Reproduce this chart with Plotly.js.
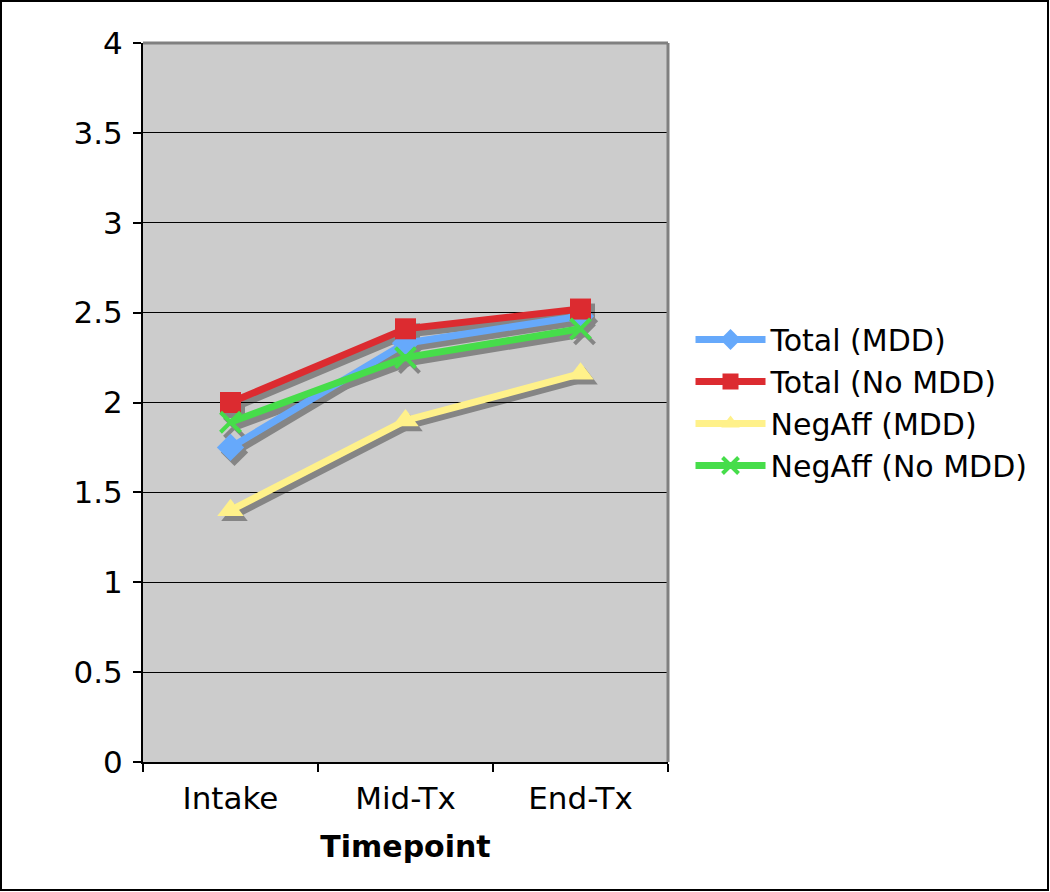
<!DOCTYPE html>
<html>
<head>
<meta charset="utf-8">
<script src="https://cdn.plot.ly/plotly-3.0.1.min.js"></script>
<style>
  html, body { margin: 0; background: #fff; overflow: hidden; }
  #graph { width: 1050px; height: 892px; }
</style>
</head>
<body>
<div id="graph"></div>
<script>
// data
var timepoints = ['Intake', 'Mid-Tx', 'End-Tx'];
var totalMDD = [1.75, 2.33, 2.48];
var totalNoMDD = [2.0, 2.41, 2.52];
var negAffMDD = [1.40, 1.90, 2.16];
var negAffNoMDD = [1.89, 2.25, 2.41];
var yTicks = [0, 0.5, 1, 1.5, 2, 2.5, 3, 3.5, 4];

var series = [
  {name: 'Total (MDD)', y: totalMDD, color: '#66a9fb', symbol: 'diamond', size: 21},
  {name: 'Total (No MDD)', y: totalNoMDD, color: '#dc2b30', symbol: 'square', size: 21},
  {name: 'NegAff (MDD)', y: negAffMDD, color: '#fff18a', symbol: 'triangle-up', size: 23},
  {name: 'NegAff (No MDD)', y: negAffNoMDD, color: '#46dd4a', symbol: 'x-thin', size: 20}
];

var W = 1050, H = 892;
var shX = 4, shY = 5; // shadow offset in px
var mL = 143, mR = 1050 - 668 - shX, mT = 43, mB = 892 - 762 - shY;
var pw = W - mL - mR, ph = H - mT - mB;
var dx = shX / pw, dy = shY / ph;

var data = [];
// gray shadows on hidden axes x/y, a few px lower-right
for (var i = 0; i < series.length; i++) {
  var s = series[i];
  data.push({
    x: timepoints, y: s.y,
    mode: 'lines+markers', showlegend: false, hoverinfo: 'skip',
    line: {color: '#858585', width: 7},
    marker: {symbol: s.symbol, size: s.size, color: '#858585',
             line: {color: '#858585', width: s.symbol == 'x-thin' ? 4 : 0}}
  });
}
// coloured lines on the visible axes x2/y2
for (var i = 0; i < series.length; i++) {
  var s = series[i];
  data.push({
    x: timepoints, y: s.y, name: s.name, xaxis: 'x2', yaxis: 'y2',
    mode: 'lines+markers',
    line: {color: s.color, width: 7},
    marker: {symbol: s.symbol, size: s.size, color: s.color,
             line: {color: s.color, width: s.symbol == 'x-thin' ? 4 : 0}}
  });
}

var layout = {
  width: W, height: H,
  margin: {l: mL, r: mR, t: mT, b: mB, autoexpand: false},
  paper_bgcolor: '#ffffff',
  plot_bgcolor: 'rgba(0,0,0,0)',
  font: {family: 'DejaVu Sans, Verdana, sans-serif', size: 31, color: '#000'},
  showlegend: true,
  legend: {x: 1.035, y: 0.5 + dy / 2, xanchor: 'left', yanchor: 'middle',
           font: {size: 30}, tracegroupgap: 0, itemwidth: 70,
           bgcolor: 'rgba(0,0,0,0)'},
  xaxis: {type: 'category', categoryarray: timepoints, range: [-0.5, 2.5],
          domain: [dx, 1], anchor: 'y', visible: false, fixedrange: true},
  yaxis: {range: [0, 4], domain: [0, 1 - dy], anchor: 'x',
          visible: false, fixedrange: true},
  xaxis2: {
    type: 'category', categoryarray: timepoints, range: [-0.5, 2.5], domain: [0, 1 - dx],
    anchor: 'y2',
    tickson: 'boundaries', ticks: 'outside', ticklen: 8, tickcolor: '#000', tickwidth: 2,
    showgrid: false, showline: true, linecolor: '#000', linewidth: 2,
    tickfont: {size: 31}, ticklabelstandoff: 8,
    title: {text: '<b>Timepoint</b>', font: {size: 30}, standoff: 21},
    fixedrange: true
  },
  yaxis2: {
    range: [0, 4], domain: [dy, 1], anchor: 'x2',
    tickvals: yTicks, ticktext: yTicks.map(String),
    ticks: 'outside', ticklen: 8, tickcolor: '#000', tickwidth: 2,
    showgrid: true, gridcolor: '#000', gridwidth: 1,
    showline: true, linecolor: '#000', linewidth: 2,
    zeroline: false, tickfont: {size: 31}, ticklabelstandoff: 4,
    fixedrange: true
  },
  shapes: [
    // grey plot background, under everything
    {type: 'rect', xref: 'paper', yref: 'paper', x0: 0, x1: 1 - dx, y0: dy, y1: 1,
     fillcolor: '#cccccc', line: {width: 0}, layer: 'below'},
    // gray frame on top and right of plot area
    {type: 'line', xref: 'paper', yref: 'paper', x0: 0, x1: 1 - dx, y0: 1, y1: 1,
     line: {color: '#808080', width: 3}},
    {type: 'line', xref: 'paper', yref: 'paper', x0: 1 - dx, x1: 1 - dx, y0: dy, y1: 1,
     line: {color: '#808080', width: 3}},
    // outer chart border
    {type: 'rect', xref: 'paper', yref: 'paper',
     x0: -(mL - 1) / pw, x1: 1 + (mR - 2) / pw,
     y0: -(mB - 2) / ph, y1: 1 + (mT - 1) / ph,
     line: {color: '#000', width: 2}}
  ]
};

Plotly.newPlot('graph', data, layout, {staticPlot: true});
</script>
</body>
</html>
